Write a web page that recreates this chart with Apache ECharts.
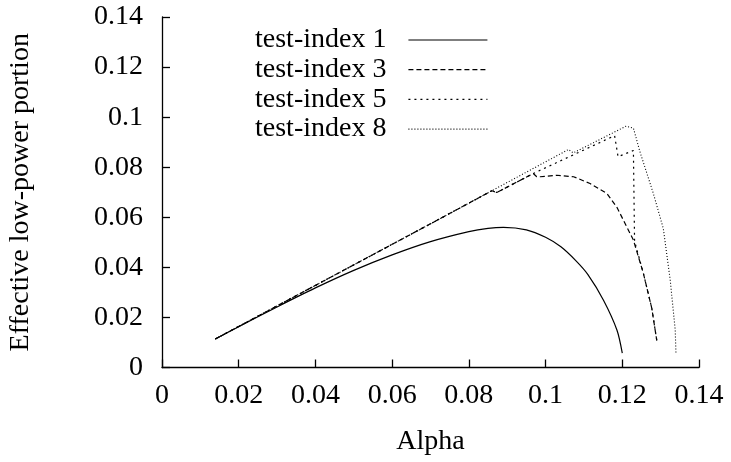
<!DOCTYPE html>
<html>
<head>
<meta charset="utf-8">
<script src="https://cdn.jsdelivr.net/npm/echarts@6/dist/echarts.min.js"></script>
<style>
  html, body { margin: 0; padding: 0; background: #fff; }
  #chart { width: 731px; height: 462px; }
</style>
</head>
<body>
<div id="chart"></div>
<script>
// values
const seriesNames = ['test-index 1', 'test-index 3', 'test-index 5', 'test-index 8'];
const axisTicks = [0, 0.02, 0.04, 0.06, 0.08, 0.1, 0.12, 0.14];

const alpha1 = [0.0139, 0.02, 0.03, 0.04, 0.05, 0.06, 0.07, 0.08, 0.085, 0.089, 0.095, 0.1, 0.104, 0.108, 0.111, 0.1151, 0.1186, 0.120];
const portion1 = [0.0114, 0.0163, 0.0242, 0.0318, 0.0388, 0.0450, 0.0503, 0.0543, 0.0556, 0.0560, 0.0550, 0.0520, 0.0482, 0.0425, 0.0372, 0.0269, 0.0150, 0.0057];

const alpha3 = [0.0139, 0.03, 0.05, 0.07, 0.086, 0.0873, 0.0968, 0.0977, 0.0986, 0.1029, 0.1073, 0.1116, 0.1160, 0.1186, 0.1229, 0.1255, 0.1277, 0.129];
const portion3 = [0.0114, 0.0246, 0.0410, 0.0574, 0.0706, 0.0699, 0.0775, 0.0762, 0.0762, 0.0768, 0.0762, 0.0735, 0.0695, 0.0640, 0.0509, 0.0376, 0.0236, 0.0107];

const alpha5 = [0.0139, 0.03, 0.05, 0.07, 0.086, 0.0873, 0.0968, 0.1180, 0.1189, 0.1229, 0.1232, 0.1255, 0.1277, 0.129];
const portion5 = [0.0114, 0.0246, 0.0410, 0.0574, 0.0706, 0.0699, 0.0775, 0.0926, 0.0842, 0.0867, 0.0505, 0.0376, 0.0236, 0.0107];

const alpha8 = [0.0139, 0.03, 0.05, 0.07, 0.086, 0.106, 0.1072, 0.121, 0.1229, 0.1246, 0.1281, 0.1307, 0.1325, 0.1338, 0.134];
const portion8 = [0.0114, 0.0246, 0.0410, 0.0574, 0.0706, 0.0871, 0.0857, 0.0964, 0.0956, 0.0862, 0.0695, 0.0555, 0.0349, 0.0150, 0.0053];

const zip = (xs, ys) => xs.map((x, i) => [x, ys[i]]);

const font = 'Liberation Serif';
const chart = echarts.init(document.getElementById('chart'));

chart.setOption({
  animation: false,
  backgroundColor: '#fff',
  grid: { left: 162, right: 32, top: 17, bottom: 94.5, containLabel: false, outerBoundsMode: 'none' },
  legend: {
    orient: 'vertical',
    align: 'right',
    left: 250,
    top: 21,
    itemWidth: 79,
    itemHeight: 28,
    itemGap: 1.7,
    data: seriesNames,
    itemStyle: { opacity: 0 },
    lineStyle: { width: 1.2 },
    textStyle: { fontFamily: font, fontSize: 28, color: '#000', lineHeight: 28, padding: [0, 17, 0, 0] }
  },
  xAxis: {
    type: 'value',
    min: axisTicks[0],
    max: axisTicks[axisTicks.length - 1],
    interval: 0.02,
    name: 'Alpha',
    nameLocation: 'middle',
    nameGap: 60,
    nameTextStyle: { fontFamily: font, fontSize: 28, color: '#000' },
    axisLine: { lineStyle: { color: '#000', width: 1.3 } },
    axisTick: { inside: true, length: 8, lineStyle: { color: '#000', width: 1.3 } },
    axisLabel: { fontFamily: font, fontSize: 28, color: '#000', margin: 14 },
    splitLine: { show: false }
  },
  yAxis: {
    type: 'value',
    min: axisTicks[0],
    max: axisTicks[axisTicks.length - 1],
    interval: 0.02,
    name: 'Effective low-power portion',
    nameLocation: 'middle',
    nameGap: 127,
    nameTextStyle: { fontFamily: font, fontSize: 28, color: '#000' },
    axisLine: { show: true, lineStyle: { color: '#000', width: 1.3 } },
    axisTick: { show: true, inside: true, length: 8, lineStyle: { color: '#000', width: 1.3 } },
    axisLabel: { fontFamily: font, fontSize: 28, color: '#000', margin: 19 },
    splitLine: { show: false }
  },
  series: [
    {
      name: seriesNames[0], type: 'line', symbol: 'none', smooth: 0.3,
      data: zip(alpha1, portion1),
      lineStyle: { color: '#000', width: 1.2, type: 'solid' },
      itemStyle: { color: '#000' }
    },
    {
      name: seriesNames[1], type: 'line', symbol: 'none',
      data: zip(alpha3, portion3),
      lineStyle: { color: '#000', width: 1.2, type: [5, 3] },
      itemStyle: { color: '#000' }
    },
    {
      name: seriesNames[2], type: 'line', symbol: 'none',
      data: zip(alpha5, portion5),
      lineStyle: { color: '#000', width: 1.2, type: [2, 4] },
      itemStyle: { color: '#000' }
    },
    {
      name: seriesNames[3], type: 'line', symbol: 'none',
      data: zip(alpha8, portion8),
      lineStyle: { color: '#000', width: 1.1, type: [1, 2] },
      itemStyle: { color: '#000' }
    }
  ]
});
</script>
</body>
</html>
